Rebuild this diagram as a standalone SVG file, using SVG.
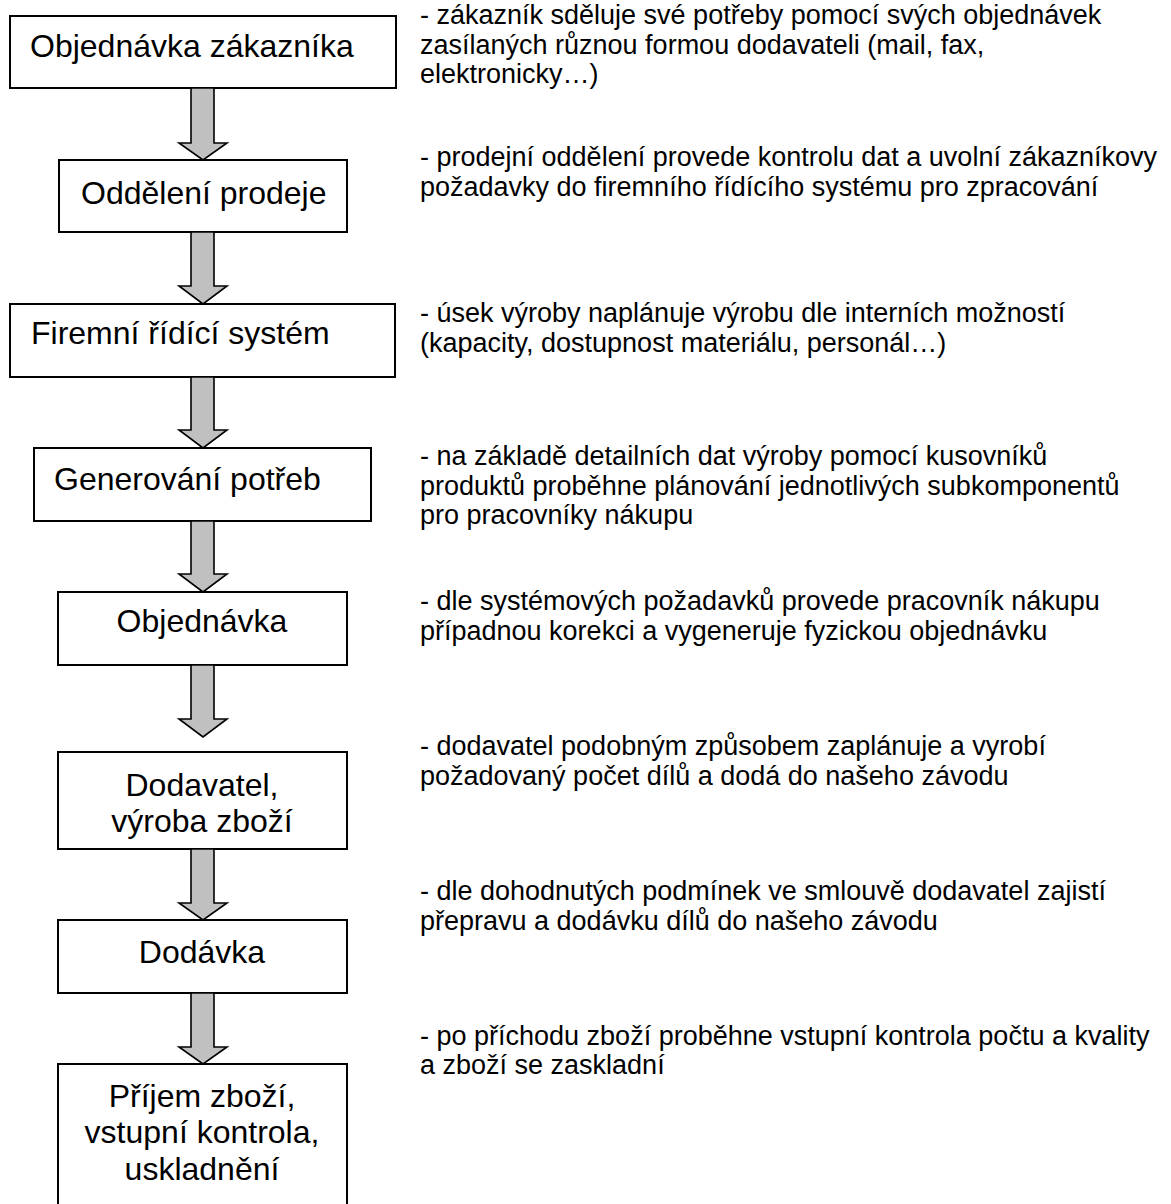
<svg xmlns="http://www.w3.org/2000/svg" width="1171" height="1204" viewBox="0 0 1171 1204">
  <style>
    .box { fill: #ffffff; stroke: #000000; stroke-width: 2; }
    .lbl { font-family: "Liberation Sans", Arial, sans-serif; font-size: 32px; fill: #000000; }
    .mid { text-anchor: middle; }
    .note { font-family: "Liberation Sans", Arial, sans-serif; font-size: 27px; fill: #000000; }
    .arrow { fill: #c0c0c0; stroke: #000000; stroke-width: 1.6; stroke-linejoin: miter; }
  </style>
  <rect width="1171" height="1204" fill="#ffffff"/>

  <!-- process steps -->
  <g id="step-objednavka-zakaznika">
    <rect class="box" x="10" y="16" width="386" height="72"/>
    <text class="lbl" x="30" y="57">Objednávka zákazníka</text>
  </g>
  <g id="step-oddeleni-prodeje">
    <rect class="box" x="59" y="160" width="288" height="72"/>
    <text class="lbl" x="81" y="204">Oddělení prodeje</text>
  </g>
  <g id="step-firemni-ridici-system">
    <rect class="box" x="10" y="304" width="385" height="73"/>
    <text class="lbl" x="31" y="344">Firemní řídící systém</text>
  </g>
  <g id="step-generovani-potreb">
    <rect class="box" x="34" y="448" width="337" height="73"/>
    <text class="lbl" x="54" y="490">Generování potřeb</text>
  </g>
  <g id="step-objednavka">
    <rect class="box" x="58" y="592" width="289" height="73"/>
    <text class="lbl mid" x="202" y="632">Objednávka</text>
  </g>
  <g id="step-dodavatel">
    <rect class="box" x="58" y="752" width="289" height="97"/>
    <text class="lbl mid" x="202" y="796">Dodavatel,</text>
    <text class="lbl mid" x="202" y="832">výroba zboží</text>
  </g>
  <g id="step-dodavka">
    <rect class="box" x="58" y="920" width="289" height="73"/>
    <text class="lbl mid" x="202" y="963">Dodávka</text>
  </g>
  <g id="step-prijem-zbozi">
    <rect class="box" x="58" y="1064" width="289" height="160"/>
    <text class="lbl mid" x="202" y="1107">Příjem zboží,</text>
    <text class="lbl mid" x="202" y="1143">vstupní kontrola,</text>
    <text class="lbl mid" x="202" y="1180">uskladnění</text>
  </g>

  <!-- block arrows between steps -->
  <g id="connectors">
    <path class="arrow" d="M191,88 H214 V143 H227 L203,160 L179,143 H191 Z"/>
    <path class="arrow" d="M191,232 H214 V286 H227 L203,304 L179,286 H191 Z"/>
    <path class="arrow" d="M191,377 H214 V430 H227 L203,448 L179,430 H191 Z"/>
    <path class="arrow" d="M191,521 H214 V574 H227 L203,592 L179,574 H191 Z"/>
    <path class="arrow" d="M191,665 H214 V719 H227 L203,737 L179,719 H191 Z"/>
    <path class="arrow" d="M191,849 H214 V903 H227 L203,920 L179,903 H191 Z"/>
    <path class="arrow" d="M191,993 H214 V1047 H227 L203,1064 L179,1047 H191 Z"/>
  </g>

  <!-- descriptions -->
  <g id="notes">
    <text class="note" x="420" y="24">- zákazník sděluje své potřeby pomocí svých objednávek</text>
    <text class="note" x="420" y="53.5">zasílaných různou formou dodavateli (mail, fax,</text>
    <text class="note" x="420" y="83">elektronicky…)</text>

    <text class="note" x="420" y="166">- prodejní oddělení provede kontrolu dat a uvolní zákazníkovy</text>
    <text class="note" x="420" y="195.5">požadavky do firemního řídícího systému pro zpracování</text>

    <text class="note" x="420" y="322">- úsek výroby naplánuje výrobu dle interních možností</text>
    <text class="note" x="420" y="352">(kapacity, dostupnost materiálu, personál…)</text>

    <text class="note" x="420" y="465">- na základě detailních dat výroby pomocí kusovníků</text>
    <text class="note" x="420" y="494.5">produktů proběhne plánování jednotlivých subkomponentů</text>
    <text class="note" x="420" y="524">pro pracovníky nákupu</text>

    <text class="note" x="420" y="610">- dle systémových požadavků provede pracovník nákupu</text>
    <text class="note" x="420" y="640">případnou korekci a vygeneruje fyzickou objednávku</text>

    <text class="note" x="420" y="755">- dodavatel podobným způsobem zaplánuje a vyrobí</text>
    <text class="note" x="420" y="785">požadovaný počet dílů a dodá do našeho závodu</text>

    <text class="note" x="420" y="900">- dle dohodnutých podmínek ve smlouvě dodavatel zajistí</text>
    <text class="note" x="420" y="930">přepravu a dodávku dílů do našeho závodu</text>

    <text class="note" x="420" y="1045">- po příchodu zboží proběhne vstupní kontrola počtu a kvality</text>
    <text class="note" x="420" y="1074">a zboží se zaskladní</text>
  </g>
</svg>
